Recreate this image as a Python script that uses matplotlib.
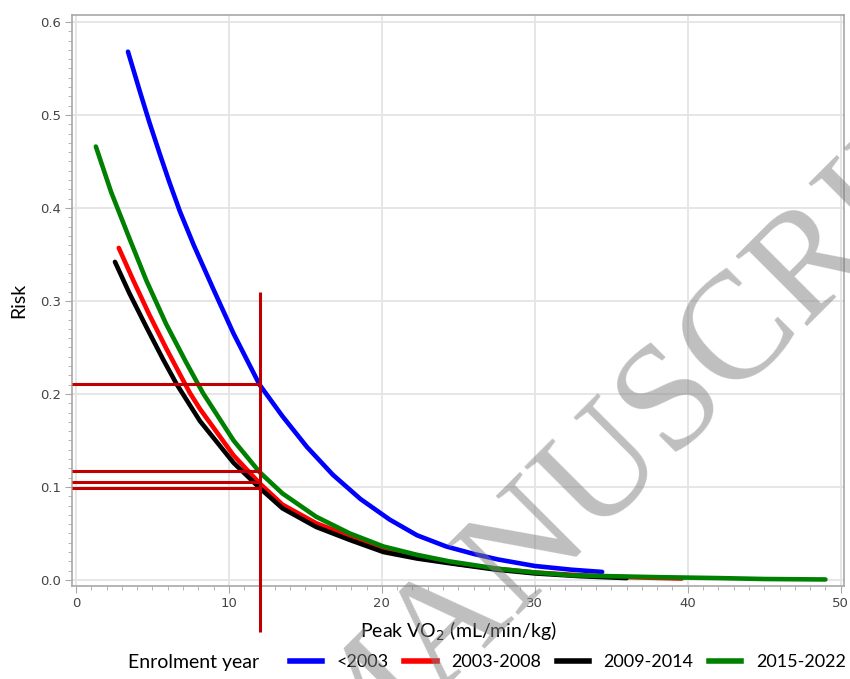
import matplotlib.pyplot as plt
from matplotlib.ticker import MultipleLocator
from matplotlib.lines import Line2D

# curves: peak VO2 (x) and predicted risk (y)
x_lt2003 = [3.4, 4.2, 4.8, 5.5, 6.1, 6.8, 7.7, 9.0, 10.3, 12.0, 13.5, 15.1, 16.8, 18.6, 20.5, 22.3, 24.2, 26.0, 27.6, 30.0, 32.4, 34.4]
y_lt2003 = [0.568, 0.524, 0.492, 0.457, 0.428, 0.396, 0.360, 0.312, 0.265, 0.210, 0.176, 0.143, 0.113, 0.087, 0.065, 0.048, 0.036, 0.028, 0.022, 0.015, 0.011, 0.0086]

x_0308 = [2.8, 3.75, 4.8, 5.9, 6.8, 7.45, 8.1, 10.3, 12.0, 13.5, 15.7, 17.9, 20.1, 22.5, 25.0, 27.5, 30.0, 33.0, 36.0, 39.6]
y_0308 = [0.357, 0.322, 0.285, 0.249, 0.221, 0.201, 0.184, 0.134, 0.104, 0.081, 0.061, 0.047, 0.034, 0.025, 0.017, 0.012, 0.008, 0.005, 0.003, 0.0015]

x_0914 = [2.55, 3.5, 4.6, 5.7, 6.6, 8.1, 10.3, 12.0, 13.5, 15.7, 17.9, 20.1, 22.3, 24.4, 27.5, 30.0, 33.0, 36.0]
y_0914 = [0.342, 0.308, 0.272, 0.237, 0.210, 0.171, 0.126, 0.099, 0.077, 0.057, 0.043, 0.030, 0.023, 0.018, 0.011, 0.007, 0.004, 0.002]

x_1522 = [1.3, 2.3, 3.5, 4.6, 5.9, 7.2, 8.3, 10.3, 11.4, 12.0, 13.5, 15.7, 17.9, 20.1, 22.3, 24.4, 27.6, 30.0, 32.4, 35.0, 38.0, 42.0, 45.0, 49.0]
y_1522 = [0.466, 0.417, 0.367, 0.322, 0.275, 0.234, 0.201, 0.150, 0.128, 0.116, 0.093, 0.068, 0.050, 0.036, 0.027, 0.020, 0.012, 0.008, 0.005, 0.004, 0.003, 0.002, 0.001, 0.0005]

series_labels = ['<2003', '2003-2008', '2009-2014', '2015-2022']
series_colors = ['#0000FF', '#FF0000', '#000000', '#008000']

# risk at peak VO2 = 12 for each period
ref_x = 12
ref_risks = [0.211, 0.117, 0.105, 0.099]

fig = plt.figure(figsize=(8.5, 6.79), dpi=100)
ax = fig.add_axes([0.0847, 0.137, 0.908, 0.841])

xs = [x_lt2003, x_0308, x_0914, x_1522]
ys = [y_lt2003, y_0308, y_0914, y_1522]
for x, y, c in zip(xs, ys, series_colors):
    ax.plot(x, y, color=c, lw=3.3, solid_capstyle='round', solid_joinstyle='round', zorder=3)

ax.set_xlim(-0.26, 50.2)
ax.set_ylim(-0.0065, 0.6075)

# reference lines
ax.hlines(ref_risks, -0.26, ref_x, color='#C00000', lw=2.2, zorder=4)
ax.vlines(ref_x, -0.056, 0.31, color='#C00000', lw=2.2, zorder=4, clip_on=False)

ax.xaxis.set_major_locator(MultipleLocator(10))
ax.xaxis.set_minor_locator(MultipleLocator(1))
ax.yaxis.set_major_locator(MultipleLocator(0.1))
ax.yaxis.set_minor_locator(MultipleLocator(0.01))
ax.yaxis.set_major_formatter(plt.FuncFormatter(lambda v, p: f'{v:.1f}'))
ax.grid(True, which='major', color='#E4E4E4', lw=1.3)
ax.set_axisbelow(True)
for s in ax.spines.values():
    s.set_color('#A8A8A8')
    s.set_linewidth(1.2)
ax.tick_params(which='major', length=5, color='#A8A8A8', labelsize=9.5, labelcolor='#444444', pad=3)
ax.tick_params(which='minor', length=3, color='#A8A8A8')

ax.set_xlabel('Peak VO$_2$ (mL/min/kg)', fontsize=14, family='Lato', labelpad=7)
ax.set_ylabel('Risk', fontsize=14, family='Lato', labelpad=9)

# legend row
fig.text(0.151, 0.025, 'Enrolment year', fontsize=14, family='Lato', va='center')
handles = [Line2D([], [], color=c, lw=4) for c in series_colors]
fig.legend(handles, series_labels, ncol=4, frameon=False, loc='center left',
           bbox_to_anchor=(0.322, 0.025), prop={'family': 'Lato', 'size': 13},
           handlelength=1.8, handletextpad=0.8, columnspacing=0.85)

# watermark
fig.text(0.78, 0.39, 'MANUSCRIPT', fontsize=110, family='Liberation Serif',
         color='#808080', alpha=0.5, rotation=45, rotation_mode='anchor',
         ha='center', va='center', zorder=10)

fig.savefig('out.png', dpi=100)
